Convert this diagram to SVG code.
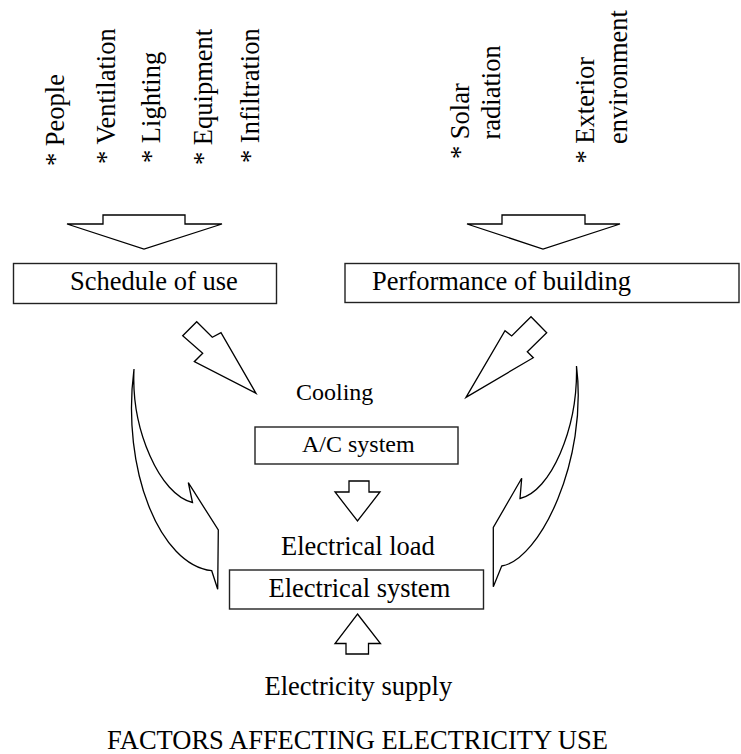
<svg xmlns="http://www.w3.org/2000/svg" width="741" height="754" viewBox="0 0 741 754">
<style>
  text { font-family: "Liberation Serif", "Times New Roman", serif; font-size: 26.5px; fill: #000; }
  .sm { font-size: 24px; }
  .box { fill: #fff; stroke: #222; stroke-width: 1.4; }
  .arrow { fill: #fff; stroke: #000; stroke-width: 1.3; stroke-linejoin: miter; }
</style>
<rect width="741" height="754" fill="#fff"/>

<g id="factors-use">
  <text transform="translate(64,166) rotate(-90)">* People</text>
  <text transform="translate(115,164) rotate(-90)">* Ventilation</text>
  <text transform="translate(159.5,163) rotate(-90)">* Lighting</text>
  <text transform="translate(211.5,165) rotate(-90)">* Equipment</text>
  <text transform="translate(259,163) rotate(-90)">* Infiltration</text>
</g>
<g id="factors-building">
  <text transform="translate(469,159) rotate(-90)">* Solar</text>
  <text transform="translate(500,139.5) rotate(-90)">radiation</text>
  <text transform="translate(594,163.5) rotate(-90)">* Exterior</text>
  <text transform="translate(626.5,144) rotate(-90)">environment</text>
</g>

<g id="schedule">
  <rect class="box" x="13.5" y="263.5" width="263" height="40"/>
  <text x="70" y="290">Schedule of use</text>
</g>
<g id="performance">
  <rect class="box" x="345" y="263.5" width="394" height="39"/>
  <text x="372" y="290">Performance of building</text>
</g>
<g id="cooling">
  <text class="sm" x="296" y="400">Cooling</text>
</g>
<g id="ac-system">
  <rect class="box" x="255" y="427" width="203" height="37"/>
  <text class="sm" x="302" y="451.5">A/C system</text>
</g>
<g id="electrical-load">
  <text x="281" y="555">Electrical load</text>
</g>
<g id="electrical-system">
  <rect class="box" x="229.5" y="570" width="254" height="39"/>
  <text x="268.5" y="596.5">Electrical system</text>
</g>
<g id="electricity-supply">
  <text x="264.5" y="695">Electricity supply</text>
</g>
<g id="title">
  <text x="107" y="749">FACTORS AFFECTING ELECTRICITY USE</text>
</g>

<g id="connectors">
  <polygon class="arrow" points="103,215 185,215 185,224 222,224 144,249 67,224 103,224"/>
  <polygon class="arrow" points="502,215 585,215 585,224 620,224 543,249 467,224 502,224"/>
  <polygon class="arrow" points="182.7,335.7 196.7,321.7 212.3,337.3 221,332.7 256,393.3 194.3,361.7 202.7,353.3"/>
  <polygon class="arrow" points="466,397.3 505,330.7 511.7,336 531,316.7 546.7,332.7 527.3,351.7 533.3,357.7"/>
  <path class="arrow" d="M134,369 C131,430 160,495 192.5,502.5 L188.3,482.7 L218.3,530 L217.7,589.3 L211.7,570.7 C160,565 121,470 134,369 Z"/>
  <path class="arrow" d="M576.5,366 C578,430 550,492 520,498.5 L521.7,478.3 L493.3,527.5 L493.3,586.7 L501.7,566 C540,560 588,460 576.5,366 Z"/>
  <polygon class="arrow" points="349,481 369,481 369,492 380,492 357.5,521 335,492 349,492"/>
  <polygon class="arrow" points="357.5,614 380.5,643.5 368.5,643.5 368.5,654 346,654 346,643.5 335,643.5"/>
</g>
</svg>
